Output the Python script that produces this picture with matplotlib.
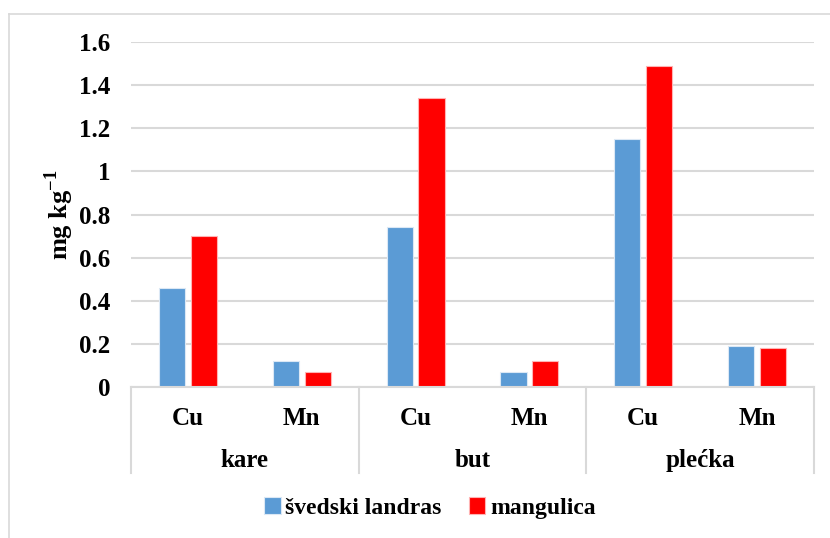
import matplotlib.pyplot as plt
import numpy as np
from matplotlib.lines import Line2D

plt.rcParams['font.family'] = ['Liberation Serif', 'DejaVu Serif']
plt.rcParams['font.weight'] = 'bold'
plt.rcParams['mathtext.fontset'] = 'custom'
plt.rcParams['mathtext.rm'] = 'Liberation Serif:bold'
plt.rcParams['mathtext.bf'] = 'Liberation Serif:bold'

groups = ['kare', 'but', 'plećka']
elements = ['Cu', 'Mn', 'Cu', 'Mn', 'Cu', 'Mn']
svedski = [0.46, 0.12, 0.74, 0.07, 1.15, 0.19]
mangulica = [0.70, 0.07, 1.34, 0.12, 1.49, 0.18]
series_names = ['švedski landras', 'mangulica']

W, H = 830, 538
fig = plt.figure(figsize=(W / 100, H / 100), dpi=100)

# outer chart border (only top and left visible in the crop)
fig.add_artist(Line2D([8.5 / W, 1.0], [1 - 13.5 / H, 1 - 13.5 / H],
                      color='#d9d9d9', lw=1.2, transform=fig.transFigure))
fig.add_artist(Line2D([8.5 / W, 8.5 / W], [0, 1 - 13.5 / H],
                      color='#d9d9d9', lw=1.2, transform=fig.transFigure))

left, right, top, bottom = 131, 814, 42, 387
ax = fig.add_axes([left / W, 1 - bottom / H, (right - left) / W, (bottom - top) / H])

x = np.arange(len(elements))
bw = 0.23
ax.bar(x - 0.14, svedski, bw, color='#5b9bd5', edgecolor='#dbe8f5', linewidth=0.8,
       label=series_names[0], zorder=3)
ax.bar(x + 0.14, mangulica, bw, color='#ff0000', edgecolor='#ffb3b3', linewidth=0.8,
       label=series_names[1], zorder=3)

ax.set_xlim(-0.5, len(elements) - 0.5)
ax.set_ylim(0, 1.6)
ax.set_yticks(np.arange(0, 1.61, 0.2))
ax.set_yticklabels(['0', '0.2', '0.4', '0.6', '0.8', '1', '1.2', '1.4', '1.6'])
ax.tick_params(axis='y', length=0, pad=15, labelsize=18)
ax.tick_params(axis='x', length=0)
ax.set_xticks([])
ax.grid(axis='y', color='#d9d9d9', lw=1.5, zorder=0)
for s in ['top', 'right', 'left']:
    ax.spines[s].set_visible(False)
ax.spines['bottom'].set_color('#d9d9d9')
ax.spines['bottom'].set_linewidth(1.5)
ax.spines['bottom'].set_zorder(4)

ax.set_ylabel('mg kg$^{-1}$', fontsize=19, fontweight='bold')
ax.yaxis.set_label_coords(-0.08, 0.5)

tr = ax.get_xaxis_transform()
for i, el in enumerate(elements):
    ax.text(i, -0.09, el, transform=tr, ha='center', va='center', fontsize=18)
for j, g in enumerate(groups):
    ax.text(2 * j + 0.5, -0.212, g, transform=tr, ha='center', va='center', fontsize=18)
for b in [-0.5, 1.5, 3.5, 5.5]:
    ax.plot([b, b], [0, -0.249], transform=tr, color='#d9d9d9', lw=1.5, clip_on=False)

fig.legend(loc='center', bbox_to_anchor=(430 / W, 1 - 508 / H), ncol=2, frameon=False,
           fontsize=17, handlelength=0.7, handleheight=0.7, handletextpad=0.2,
           columnspacing=1.15)

fig.savefig('out.png', dpi=100)
